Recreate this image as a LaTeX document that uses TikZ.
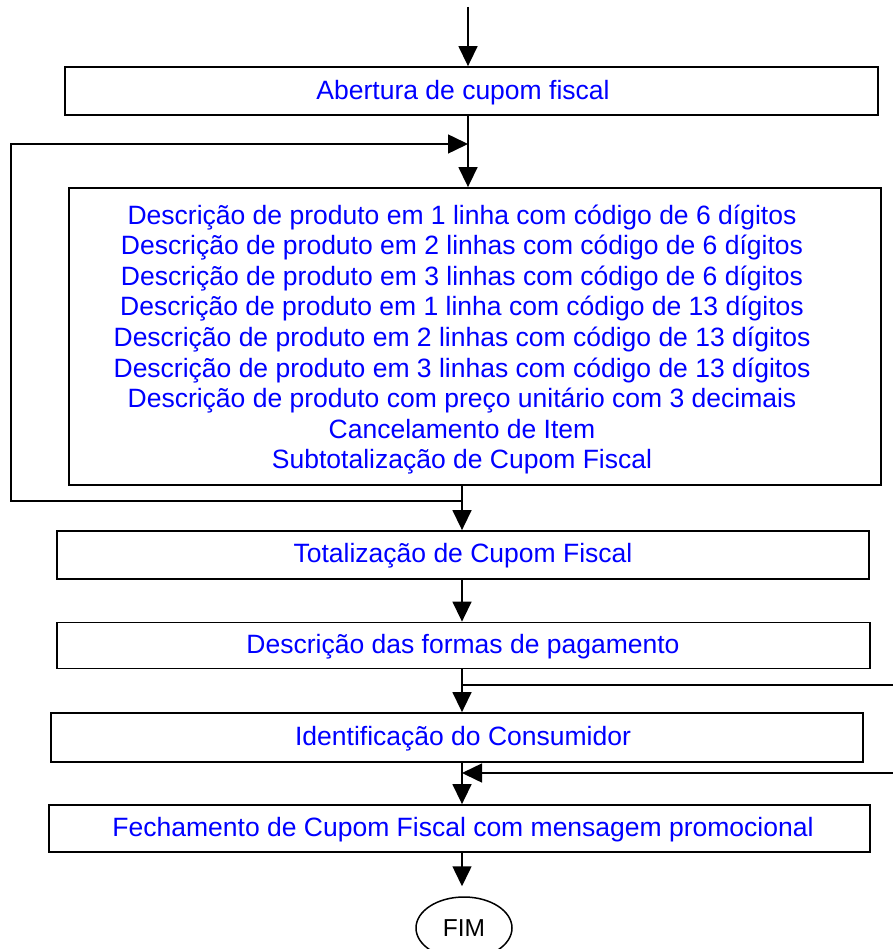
\documentclass[tikz,border=0pt]{standalone}
\usepackage{fontspec}
\setmainfont{Liberation Sans}
\usetikzlibrary{arrows.meta,shapes.geometric}
\begin{document}
\begin{tikzpicture}[x=1pt,y=-1pt,
    box/.style={rectangle,draw,line width=1.8pt,minimum height=48pt},
    txt/.style={text=blue,font=\fontsize{26.5}{30.6}\selectfont,align=center,inner sep=0pt},
    flow/.style={-{Triangle[length=20pt,width=19pt]},line width=1.5pt}]
      \useasboundingbox (0,0) rectangle (892,949);
      \coordinate (start) at (468,7);
      \coordinate (axtop) at (468,0);
      \coordinate (axis) at (462,0);
      \coordinate (leftx) at (11,0);
      \coordinate (rightx) at (910,0);

      \node[box,minimum width=813pt] (abertura) at (471.5,91) {};
      \node[txt] (abertura-t) at (463,92.5) {Abertura de cupom fiscal};

      \node[box,minimum width=812pt,minimum height=297pt] (itens) at (475,336.5) {};
      \node[txt] (itens-t) at (462,339.5)
           {Descrição de produto em 1 linha com código de 6 dígitos\\
            Descrição de produto em 2 linhas com código de 6 dígitos\\
            Descrição de produto em 3 linhas com código de 6 dígitos\\
            Descrição de produto em 1 linha com código de 13 dígitos\\
            Descrição de produto em 2 linhas com código de 13 dígitos\\
            Descrição de produto em 3 linhas com código de 13 dígitos\\
            Descrição de produto com preço unitário com 3 decimais\\
            Cancelamento de Item\\
            Subtotalização de Cupom Fiscal};

      \node[box,minimum width=812pt] (totaliza) at (463,555) {};
      \node[txt] (totaliza-t) at (463,556) {Totalização de Cupom Fiscal};

      \node[box,minimum width=813pt,minimum height=46pt] (pagamento) at (463.5,645.5) {};
      \node[txt] (pagamento-t) at (463,646.5) {Descrição das formas de pagamento};

      \node[box,minimum width=812pt,minimum height=49pt] (consumidor) at (457,737.5) {};
      \node[txt] (consumidor-t) at (463,738.5) {Identificação do Consumidor};

      \node[box,minimum width=821pt,minimum height=47pt] (fechamento) at (459.5,828.5) {};
      \node[txt] (fechamento-t) at (463,829.5)
           {Fechamento de Cupom Fiscal com mensagem promocional};

      \node[ellipse,draw,line width=1.5pt,minimum width=96pt,minimum height=62pt,
            font=\fontsize{24.5}{28}\selectfont] (fim) at (464,928) {FIM};

      \coordinate (loopin) at (468,144);
      \coordinate (loopout) at (462,501);
      \coordinate (bypout) at (462,685);
      \coordinate (bypin) at (462,773);

      \draw[flow] (start) -- (axtop |- abertura.north);
      \draw[flow] (axtop |- abertura.south) -- (axtop |- itens.north);
      \draw[flow] (loopout) -| (leftx |- loopin) -- (loopin);
      \draw[flow] (axis |- itens.south) -- (axis |- totaliza.north);
      \draw[flow] (axis |- totaliza.south) -- (axis |- pagamento.north);
      \draw[flow] (axis |- pagamento.south) -- (axis |- consumidor.north);
      \draw[line width=1.5pt] (bypout) -- (rightx |- bypout) -- (rightx |- bypin);
      \draw[flow] (rightx |- bypin) -- (bypin);
      \draw[flow] (axis |- consumidor.south) -- (axis |- fechamento.north);
      \draw[flow,shorten >=10pt] (axis |- fechamento.south) -- (axis |- fim.north);
\end{tikzpicture}
\end{document}
